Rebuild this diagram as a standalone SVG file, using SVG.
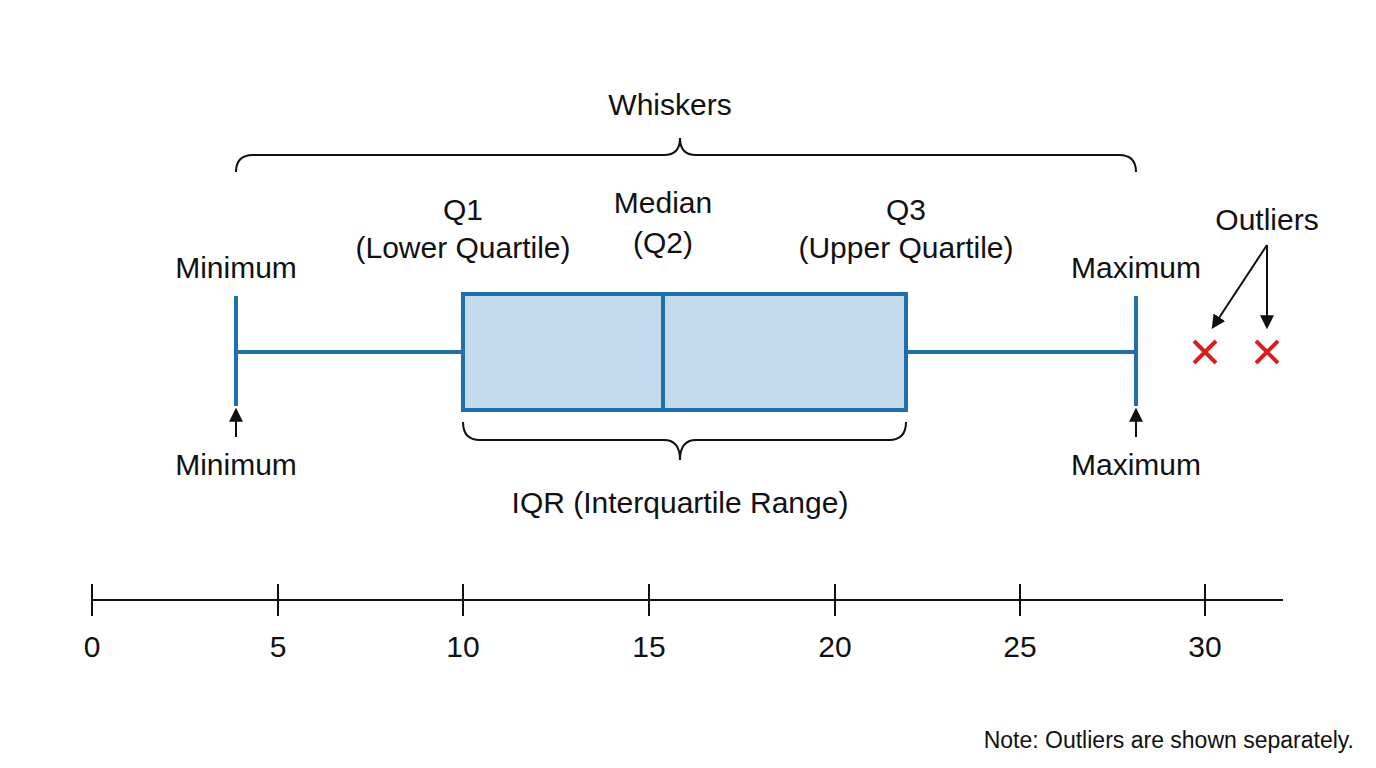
<svg xmlns="http://www.w3.org/2000/svg" width="1376" height="768" viewBox="0 0 1376 768">
<style>
text{font-family:"Liberation Sans",Arial,sans-serif;fill:#111;font-size:30px;text-anchor:middle}
.s{font-size:23px;text-anchor:end}
.b{stroke:#1f6fad;stroke-width:4;fill:none}
.k{stroke:#111;stroke-width:2;fill:none}
.x{stroke:#d61f1f;stroke-width:4}
</style>
<defs><marker id="a" markerWidth="14" markerHeight="14" refX="10" refY="6" orient="auto" markerUnits="userSpaceOnUse" viewBox="0 0 12 12"><path d="M0,0L12,6L0,12z" fill="#111"/></marker></defs>
<rect width="1376" height="768" fill="#fff"/>
<g id="box"><rect x="463" y="294" width="443" height="116" class="b" style="fill:#c3d9ec"/><line x1="663" y1="294" x2="663" y2="410" class="b"/></g>
<g id="whiskers"><line x1="236" y1="352" x2="463" y2="352" class="b"/><line x1="906" y1="352" x2="1136" y2="352" class="b"/><line x1="236" y1="296" x2="236" y2="406" class="b"/><line x1="1136" y1="296" x2="1136" y2="406" class="b"/></g>
<g id="outliers"><path class="x" d="M1194,341l22,22M1216,341l-22,22M1256,341l22,22M1278,341l-22,22"/></g>
<g id="braces"><path class="k" d="M236,172q0,-17 17,-17H664q16,0 16,-17q0,17 16,17H1119q17,0 17,17"/><path class="k" d="M463,422q0,18 17,18H664q16,0 16,20q0,-20 16,-20H889q17,0 17,-18"/></g>
<g id="connectors"><line x1="236" y1="437" x2="236" y2="410" class="k" marker-end="url(#a)"/><line x1="1136" y1="437" x2="1136" y2="410" class="k" marker-end="url(#a)"/><line x1="1267" y1="245" x2="1213" y2="327" class="k" marker-end="url(#a)"/><line x1="1267" y1="245" x2="1267" y2="327" class="k" marker-end="url(#a)"/></g>
<g id="axis"><path class="k" d="M92,600H1283M92,584v32M278,584v32M463,584v32M649,584v32M835,584v32M1020,584v32M1205,584v32"/>
<text x="92" y="657">0</text><text x="278" y="657">5</text><text x="463" y="657">10</text><text x="649" y="657">15</text><text x="835" y="657">20</text><text x="1020" y="657">25</text><text x="1205" y="657">30</text></g>
<g id="labels">
<text x="670" y="115">Whiskers</text>
<text x="236" y="278">Minimum</text><text x="1136" y="278">Maximum</text>
<text x="236" y="475">Minimum</text><text x="1136" y="475">Maximum</text>
<text x="463" y="220">Q1</text><text x="463" y="258">(Lower Quartile)</text>
<text x="663" y="213">Median</text><text x="663" y="253">(Q2)</text>
<text x="906" y="220">Q3</text><text x="906" y="258">(Upper Quartile)</text>
<text x="1267" y="230">Outliers</text>
<text x="680" y="513">IQR (Interquartile Range)</text>
<text class="s" x="1354" y="748">Note: Outliers are shown separately.</text>
</g>
</svg>
